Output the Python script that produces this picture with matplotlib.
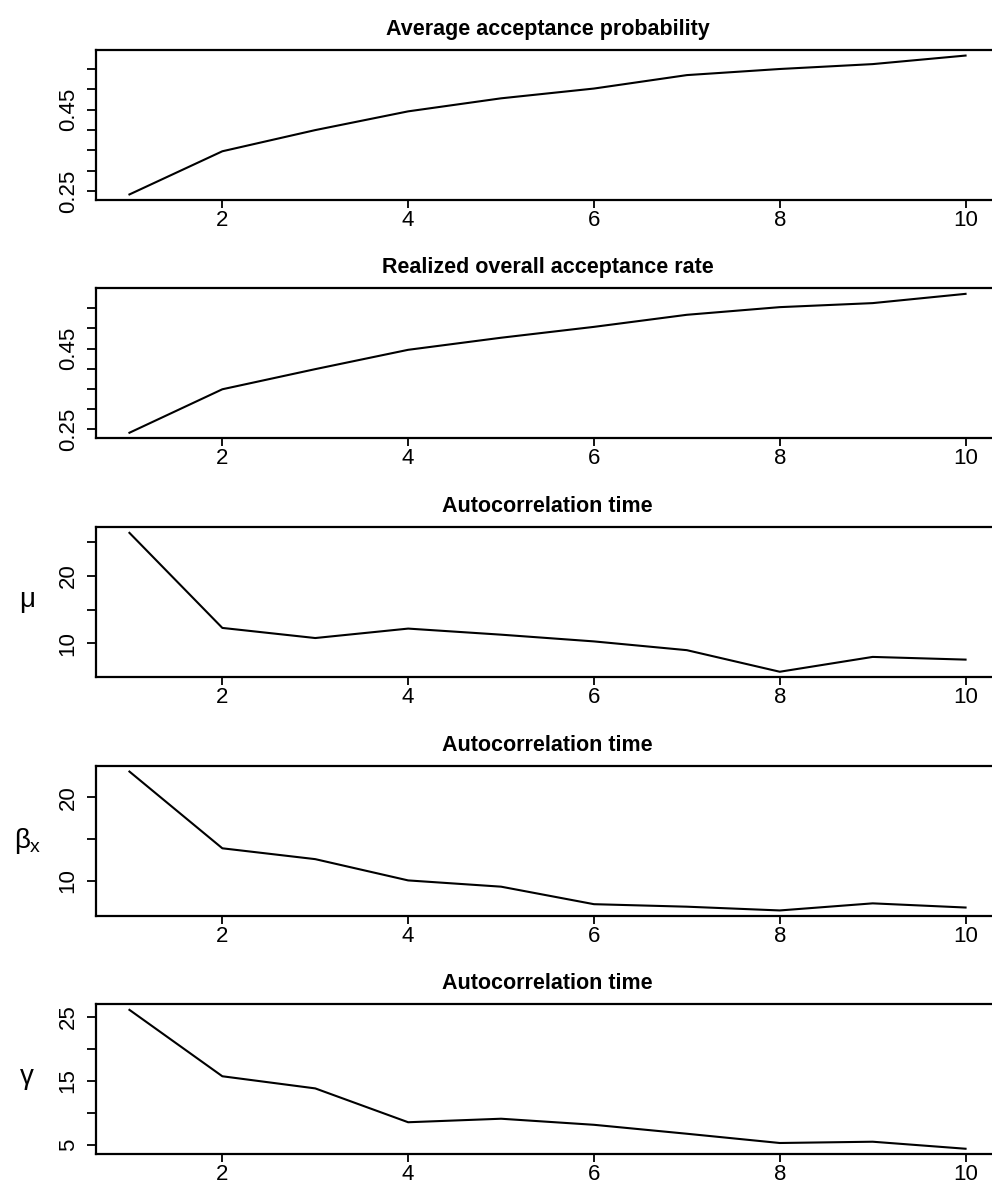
import matplotlib
matplotlib.use("Agg")
import matplotlib.pyplot as plt

plt.rcParams["font.family"] = ["Liberation Sans", "DejaVu Sans"]
plt.rcParams["mathtext.fontset"] = "custom"
plt.rcParams["mathtext.rm"] = "Liberation Sans"
plt.rcParams["mathtext.it"] = "Liberation Sans"

steps = [1, 2, 3, 4, 5, 6, 7, 8, 9, 10]

avg_accept = [0.242, 0.348, 0.400, 0.446, 0.478, 0.502, 0.535, 0.550, 0.562, 0.583]
realized_accept = [0.241, 0.349, 0.399, 0.447, 0.477, 0.504, 0.534, 0.553, 0.563, 0.586]
act_mu = [26.4, 12.3, 10.8, 12.2, 11.3, 10.3, 9.0, 5.8, 8.0, 7.6]
act_beta = [23.1, 13.9, 12.6, 10.05, 9.3, 7.2, 6.9, 6.45, 7.3, 6.8]
act_gamma = [26.1, 15.7, 13.8, 8.5, 9.05, 8.1, 6.7, 5.25, 5.45, 4.35]

titles = [
    "Average acceptance probability",
    "Realized overall acceptance rate",
    "Autocorrelation time",
    "Autocorrelation time",
    "Autocorrelation time",
]
ylabels = ["", "", r"$\mu$", r"$\beta_\mathrm{x}$", r"$\gamma$"]
series = [avg_accept, realized_accept, act_mu, act_beta, act_gamma]

ytick_vals = [
    [0.25, 0.30, 0.35, 0.40, 0.45, 0.50, 0.55],
    [0.25, 0.30, 0.35, 0.40, 0.45, 0.50, 0.55],
    [10, 15, 20, 25],
    [10, 15, 20],
    [5, 10, 15, 20, 25],
]
ytick_text = [
    ["0.25", "", "", "", "0.45", "", ""],
    ["0.25", "", "", "", "0.45", "", ""],
    ["10", "", "20", ""],
    ["10", "", "20"],
    ["5", "", "15", "", "25"],
]
xticks = [2, 4, 6, 8, 10]

W, H = 992, 1191
fig = plt.figure(figsize=(W / 100, H / 100), dpi=100)

panel_tops = [50, 288.3, 527.3, 766, 1004.3]
panel_h = 150
left_px, right_px = 96, 999

for i, (vals, title) in enumerate(zip(series, titles)):
    top = panel_tops[i]
    ax = fig.add_axes([left_px / W, 1 - (top + panel_h) / H,
                       (right_px - left_px) / W, panel_h / H])
    ax.plot(steps, vals, color="black", linewidth=1.5)
    ax.margins(x=0.04, y=0.04)
    ax.set_xticks(xticks)
    ax.set_yticks(ytick_vals[i])
    ax.set_yticklabels(ytick_text[i], rotation=90, va="center")
    ax.tick_params(axis="x", length=6, width=1.3, pad=1, labelsize=16)
    ax.tick_params(axis="y", length=6.5, width=1.3, pad=6, labelsize=16)
    for sp in ax.spines.values():
        sp.set_linewidth(1.6)
    ax.set_title(title, fontsize=15.5, fontweight="bold", pad=11)
    if ylabels[i]:
        ax.set_ylabel(ylabels[i], rotation=0, fontsize=20, va="center", ha="center")
        ax.yaxis.set_label_coords(-0.076, 0.5)

fig.savefig("out.png", dpi=100)
